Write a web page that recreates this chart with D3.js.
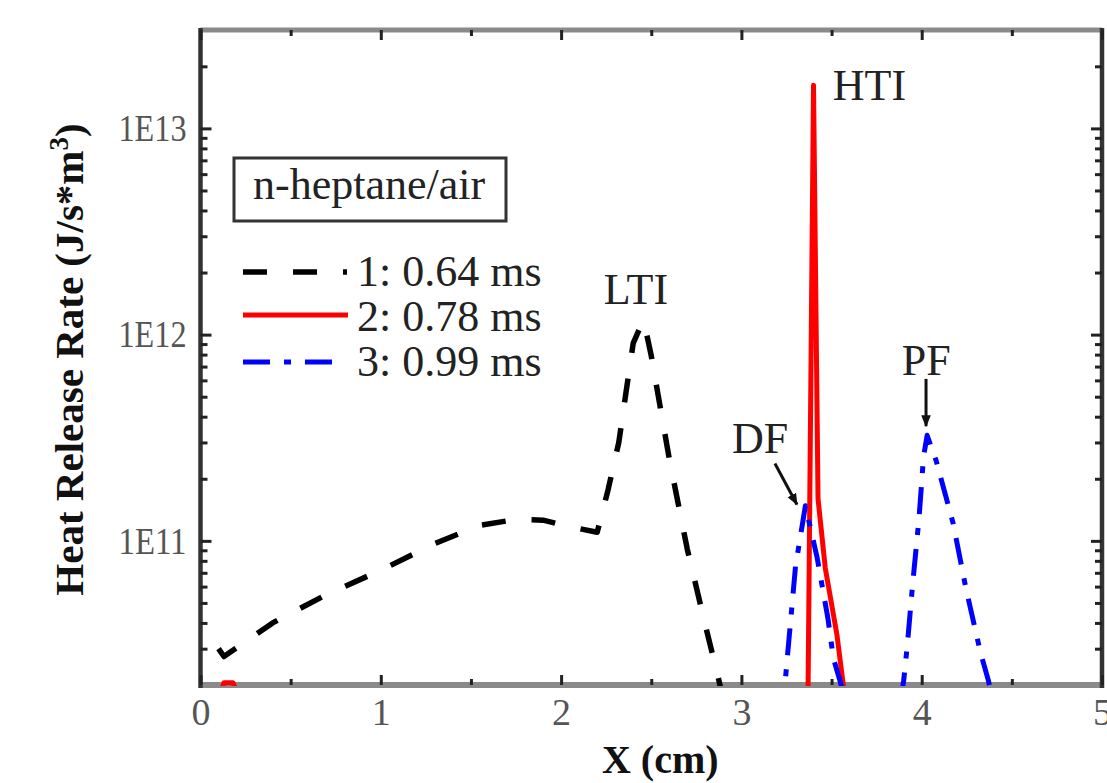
<!DOCTYPE html>
<html>
<head>
<meta charset="utf-8">
<script src="https://cdn.jsdelivr.net/npm/d3@7"></script>
<style>
  body { margin: 0; background: #fff; }
  svg { display: block; }
</style>
</head>
<body>
<svg id="chart" width="1107" height="783"></svg>
<script>
// Heat release rate profiles across the domain for n-heptane/air at three instants

// ---- axis ticks ----
const xTickValues = [0, 1, 2, 3, 4, 5];
const xMinorValues = [0.5, 1.5, 2.5, 3.5, 4.5];
const yTickValues = [1e11, 1e12, 1e13];
const yTickLabels = ["1E11", "1E12", "1E13"];

// ---- series ----
const seriesLabels = ["1: 0.64 ms", "2: 0.78 ms", "3: 0.99 ms"];
const legendTitle = "n-heptane/air";

// 1: 0.64 ms (low-temperature ignition front)
const x1 = [0.10, 0.13, 0.40, 0.70, 1.00, 1.30, 1.55, 1.75, 1.90, 2.05, 2.20, 2.26, 2.32, 2.36, 2.40, 2.455, 2.47, 2.50, 2.60, 2.70, 2.80, 2.87, 2.95];
const hrr1 = [3.0e10, 2.75e10, 4.0e10, 5.5e10, 7.2e10, 9.7e10, 1.19e11, 1.27e11, 1.26e11, 1.17e11, 1.10e11, 1.76e11, 3.0e11, 5.25e11, 9.1e11, 1.17e12, 1.05e12, 7.9e11, 2.5e11, 9.1e10, 3.9e10, 2.2e10, 1.1e10];

// 2: 0.78 ms (high-temperature ignition spike)
const x2 = [0.10, 0.13, 0.18, 0.22, 3.36, 3.37, 3.40, 3.425, 3.465, 3.53, 3.565, 3.60];
const hrr2 = [1.7e10, 2.05e10, 2.05e10, 1.7e10, 1.0e10, 2.0e10, 1.62e13, 1.6e11, 7.4e10, 3.5e10, 2.0e10, 1.4e10];

// 3: 0.99 ms (deflagration and premixed flame)
const x3 = [3.22, 3.24, 3.30, 3.355, 3.42, 3.48, 3.51, 3.55, 3.57, 3.70, 3.88, 3.90, 3.92, 3.95, 3.985, 4.01, 4.03, 4.08, 4.175, 4.245, 4.325, 4.37, 4.40];
const hrr3 = [1.4e10, 1.95e10, 7.5e10, 1.48e11, 8.3e10, 4.2e10, 2.7e10, 2.05e10, 1.7e10, 8.0e9, 1.6e10, 2.1e10, 3.1e10, 6.2e10, 1.28e11, 2.55e11, 3.25e11, 2.45e11, 1.21e11, 5.9e10, 2.9e10, 2.1e10, 1.6e10];

const serif = "'Liberation Serif', 'Times New Roman', Times, serif";

const svg = d3.select("#chart");
const plot = { left: 200.5, right: 1102, top: 30, bottom: 685 };

const x = d3.scaleLinear().domain([0, 5]).range([plot.left, plot.right]);
const y = d3.scaleLog().domain([2e10, 3e13]).range([plot.bottom, plot.top]);

// minor ticks of the log axis: 2..9 within every decade
const yMinorValues = [];
for (let d = 10; d <= 13; d++) {
  for (let k = 2; k <= 9; k++) {
    const v = k * Math.pow(10, d);
    if (v > y.domain()[0] && v < y.domain()[1]) yMinorValues.push(v);
  }
}

// ---- frame ----
const frame = svg.append("g");
frame.append("line").attr("x1", plot.left).attr("x2", plot.right).attr("y1", plot.top).attr("y2", plot.top)
  .attr("stroke", "#8a8a8a").attr("stroke-width", 5);
frame.append("line").attr("x1", plot.left).attr("x2", plot.right).attr("y1", plot.bottom).attr("y2", plot.bottom)
  .attr("stroke", "#8a8a8a").attr("stroke-width", 6);
frame.append("line").attr("x1", plot.left).attr("x2", plot.left).attr("y1", plot.top - 2).attr("y2", plot.bottom + 3)
  .attr("stroke", "#333").attr("stroke-width", 4.5);
frame.append("line").attr("x1", plot.right).attr("x2", plot.right).attr("y1", plot.top - 2).attr("y2", plot.bottom + 3)
  .attr("stroke", "#333").attr("stroke-width", 4.5);

function styleTicks(g, width) {
  g.select(".domain").remove();
  g.selectAll(".tick line").attr("stroke", "#222").attr("stroke-width", width);
}

// bottom axis
const gxB = svg.append("g").attr("transform", `translate(0,${plot.bottom})`)
  .call(d3.axisBottom(x).tickValues(xTickValues).tickFormat(d3.format("d")).tickSize(-10).tickPadding(13));
styleTicks(gxB, 3);
gxB.selectAll("text").attr("font-family", serif).attr("font-size", 38).attr("fill", "#555");
const gxBm = svg.append("g").attr("transform", `translate(0,${plot.bottom})`)
  .call(d3.axisBottom(x).tickValues(xMinorValues).tickFormat("").tickSize(-6));
styleTicks(gxBm, 3);

// top axis
const gxT = svg.append("g").attr("transform", `translate(0,${plot.top})`)
  .call(d3.axisTop(x).tickValues(xTickValues).tickFormat("").tickSize(-10));
styleTicks(gxT, 3);
const gxTm = svg.append("g").attr("transform", `translate(0,${plot.top})`)
  .call(d3.axisTop(x).tickValues(xMinorValues).tickFormat("").tickSize(-6));
styleTicks(gxTm, 3);

// left axis
const gyL = svg.append("g").attr("transform", `translate(${plot.left},0)`)
  .call(d3.axisLeft(y).tickValues(yTickValues).tickFormat((d, i) => yTickLabels[i]).tickSize(-11).tickPadding(14));
styleTicks(gyL, 3);
gyL.selectAll("text").attr("font-family", serif).attr("font-size", 38).attr("fill", "#555")
  .attr("textLength", 68).attr("lengthAdjust", "spacingAndGlyphs");
const gyLm = svg.append("g").attr("transform", `translate(${plot.left},0)`)
  .call(d3.axisLeft(y).tickValues(yMinorValues).tickFormat("").tickSize(-7));
styleTicks(gyLm, 3);

// right axis
const gyR = svg.append("g").attr("transform", `translate(${plot.right},0)`)
  .call(d3.axisRight(y).tickValues(yTickValues).tickFormat("").tickSize(-11));
styleTicks(gyR, 3);
const gyRm = svg.append("g").attr("transform", `translate(${plot.right},0)`)
  .call(d3.axisRight(y).tickValues(yMinorValues).tickFormat("").tickSize(-7));
styleTicks(gyRm, 3);

// ---- axis titles ----
svg.append("text")
  .attr("x", (plot.left + plot.right) / 2 + 9).attr("y", 773)
  .attr("text-anchor", "middle").attr("font-family", serif).attr("font-weight", "bold")
  .attr("font-size", 40).attr("fill", "#111")
  .text("X (cm)");

const yTitle = svg.append("text")
  .attr("transform", `translate(83,${(plot.top + plot.bottom) / 2 + 2}) rotate(-90)`)
  .attr("text-anchor", "middle").attr("font-family", serif).attr("font-weight", "bold")
  .attr("font-size", 41).attr("fill", "#111");
yTitle.append("tspan").text("Heat Release Rate (J/s*m");
yTitle.append("tspan").attr("dy", -15).attr("font-size", 27).text("3");
yTitle.append("tspan").attr("dy", 15).text(")");

// ---- curves ----
svg.append("clipPath").attr("id", "plot-clip")
  .append("rect").attr("x", plot.left).attr("y", plot.top).attr("width", plot.right - plot.left).attr("height", plot.bottom - plot.top + 1);

const line = d3.line().x(d => x(d[0])).y(d => y(d[1]));
const series = [
  { xs: x1, vs: hrr1, color: "#000000", dash: "24,26", width: 5.5 },
  { xs: x2, vs: hrr2, color: "#ff0000", dash: null, width: 5 },
  { xs: x3, vs: hrr3, color: "#0000ff", dash: "27,14,7,14", width: 5 }
];

const curves = svg.append("g").attr("clip-path", "url(#plot-clip)");
series.forEach(s => {
  curves.append("path")
    .datum(s.xs.map((xv, i) => [xv, s.vs[i]]))
    .attr("d", line)
    .attr("fill", "none")
    .attr("stroke", s.color)
    .attr("stroke-width", s.width)
    .attr("stroke-dasharray", s.dash)
    .attr("stroke-linejoin", "round");
});

// ---- legend ----
const legend = svg.append("g");
legend.append("rect").attr("x", 234).attr("y", 158).attr("width", 272).attr("height", 63)
  .attr("fill", "#fff").attr("stroke", "#333").attr("stroke-width", 3);
legend.append("text").attr("x", 253).attr("y", 199)
  .attr("font-family", serif).attr("font-size", 44).attr("fill", "#222")
  .text(legendTitle);

const legendRows = [272, 315, 362];
const legendBase = [286, 331, 376];
series.forEach((s, i) => {
  legend.append("line")
    .attr("x1", 243).attr("x2", i === 1 ? 348 : (i === 0 ? 347 : 335))
    .attr("y1", legendRows[i]).attr("y2", legendRows[i])
    .attr("stroke", s.color).attr("stroke-width", s.width)
    .attr("stroke-dasharray", s.dash);
  legend.append("text").attr("x", 357).attr("y", legendBase[i])
    .attr("font-family", serif).attr("font-size", 44).attr("fill", "#222")
    .text(seriesLabels[i]);
});

// ---- annotations ----
svg.append("defs").append("marker")
  .attr("id", "arrowhead").attr("viewBox", "0 0 10 10").attr("refX", 9).attr("refY", 5)
  .attr("markerWidth", 4).attr("markerHeight", 4).attr("orient", "auto")
  .append("path").attr("d", "M0,1 L10,5 L0,9 Z").attr("fill", "#111");

const notes = svg.append("g").attr("font-family", serif).attr("font-size", 44).attr("fill", "#222");
notes.append("text").attr("x", x(2.415)).attr("y", y(1.4e12)).attr("text-anchor", "middle").text("LTI");
notes.append("text").attr("x", x(3.507)).attr("y", y(1.37e13)).text("HTI");
notes.append("text").attr("x", x(2.948)).attr("y", y(2.68e11)).text("DF");
notes.append("text").attr("x", x(4.025)).attr("y", y(6.4e11)).attr("text-anchor", "middle").text("PF");

notes.append("line")
  .attr("x1", x(3.186)).attr("y1", y(2.37e11)).attr("x2", x(3.308)).attr("y2", y(1.5e11))
  .attr("stroke", "#111").attr("stroke-width", 3).attr("marker-end", "url(#arrowhead)");
notes.append("line")
  .attr("x1", x(4.024)).attr("y1", y(6.1e11)).attr("x2", x(4.024)).attr("y2", y(3.6e11))
  .attr("stroke", "#111").attr("stroke-width", 3).attr("marker-end", "url(#arrowhead)");
</script>
</body>
</html>
